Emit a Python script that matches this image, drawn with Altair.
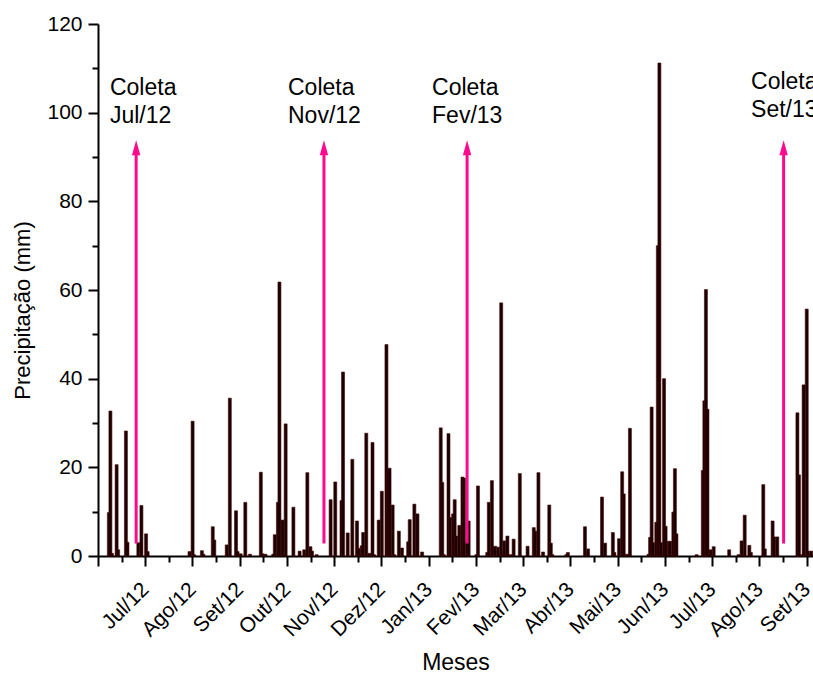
import json
import altair as alt
import pandas as pd

# ---------------- data ----------------
# day index counted from 1 Jun 2012 (ticks are evenly spaced, one per month)
day = [7, 8, 9, 12, 13, 18, 19, 26, 28, 31, 32,
       59, 61, 62, 67, 68, 74, 75, 83, 85, 89, 90, 92,
       95, 98, 105, 106, 108, 113, 114, 116, 117, 119, 121, 126, 130, 133, 135, 137, 138, 141,
       150, 153, 157, 158, 161, 164, 167, 168, 170, 171, 173, 175, 177, 178, 181, 183, 186, 187, 188, 190, 191, 194, 196, 200, 201, 204, 206, 209,
       221, 222, 223, 226, 227, 229, 230, 231, 233, 235, 236, 238, 239,
       244, 245, 251, 252, 254, 255, 256, 258, 260, 262, 264, 266, 268, 272, 277, 281, 282, 284, 287, 291, 292, 293,
       302, 303, 314, 316, 325, 327, 332, 333, 336, 338, 339, 341, 343,
       355, 356, 357, 358, 360, 361, 362, 363, 365, 366, 368, 369, 371, 372, 373,
       386, 390, 391, 392, 393, 395, 397, 407, 413, 415, 417, 420, 421, 429, 430, 435, 436, 438,
       451, 452, 454, 455, 457, 458, 460]
rain = [9.8, 32.7, 0.6, 20.6, 1.4, 28.2, 3.1, 3.0, 11.4, 5.0, 1.0,
        1.0, 30.4, 0.3, 1.2, 0.4, 6.6, 3.6, 2.5, 35.6, 10.2, 1.0, 0.5,
        12.1, 0.4, 18.9, 0.5, 0.4, 0.4, 4.8, 12.1, 61.8, 8.1, 29.8, 11.0, 1.1, 1.4, 18.8, 2.1, 1.1, 0.3,
        12.7, 16.7, 12.5, 41.5, 5.2, 21.8, 7.9, 1.7, 2.3, 5.3, 27.7, 0.6, 25.6, 0.3, 8.1, 14.6, 47.7, 18.9, 19.8, 11.5, 0.3, 5.6, 1.8, 3.2, 8.2, 11.7, 9.5, 0.9,
        28.9, 16.6, 0.3, 27.6, 8.7, 9.5, 12.7, 4.5, 6.9, 17.8, 17.6, 3.2, 7.9,
        0.3, 15.8, 0.8, 12.1, 17.0, 1.8, 2.2, 2.0, 57.1, 3.4, 4.5, 0.3, 3.8, 18.6, 2.2, 6.4, 5.6, 18.8, 0.9, 11.5, 2.9, 0.3,
        0.3, 0.8, 6.6, 1.6, 13.3, 2.9, 5.3, 0.8, 3.9, 19.0, 14.0, 0.4, 28.8,
        0.4, 4.2, 33.6, 3.0, 7.6, 70.0, 111.2, 3.0, 40.0, 6.7, 3.3, 3.3, 9.9, 19.7, 5.0,
        0.3, 19.3, 35.0, 60.1, 33.1, 1.4, 2.1, 1.4, 0.3, 3.4, 9.2, 2.4, 0.8, 16.1, 1.6, 7.9, 4.3, 4.3,
        32.3, 18.3, 0.3, 38.6, 55.7, 1.1, 1.1]

month_labels = ["", "Jul/12", "Ago/12", "Set/12", "Out/12", "Nov/12", "Dez/12", "Jan/13",
                "Fev/13", "Mar/13", "Abr/13", "Mai/13", "Jun/13", "Jul/13", "Ago/13", "Set/13"]
y_major = [0, 20, 40, 60, 80, 100, 120]
y_minor = [10, 30, 50, 70, 90, 110]

arrow_day = [24.6, 145.7, 238.0, 442.1]
arrow_base = [2.8, 2.8, 2.8, 2.8]
arrow_tip = [93.8, 93.8, 93.8, 93.8]
note_text = ["Coleta\nJul/12", "Coleta\nNov/12", "Coleta\nFev/13", "Coleta\nSet/13"]
note_day = [7.7, 122.5, 215.4, 421.1]
note_val = [104.0, 104.0, 104.0, 105.3]

# ---------------- derived ----------------
step = 457 / 15
x_major = [round(i * step, 3) for i in range(len(month_labels))]
x_minor = [round((i + 0.5) * step, 3) for i in range(len(month_labels) - 1)]
x_domain = [0, 461.05]

bars = pd.DataFrame({"day": day, "rain": rain})
arrows = pd.DataFrame({"day": arrow_day, "base": arrow_base, "tip": arrow_tip,
                       "head": [t - 2.0 for t in arrow_tip]})
notes = pd.DataFrame({"day": note_day, "val": note_val, "txt": note_text})

FONT = "Liberation Sans"
MAG = "#ff0a8c"
label_expr = json.dumps(month_labels) + "[round(datum.value / %f)]" % step

xs = alt.Scale(domain=x_domain, nice=False, zero=False, padding=0)
ys = alt.Scale(domain=[0, 120], nice=False, padding=0)

x_main = alt.X("day:Q", scale=xs,
               axis=alt.Axis(values=x_major, labelExpr=label_expr, title="Meses",
                             labelAngle=-45, labelAlign="right", labelBaseline="middle",
                             labelPadding=20, labelFontSize=21, labelFont=FONT, labelColor="black",
                             titleFont=FONT, titleFontSize=23, titleFontWeight="normal",
                             titleColor="black", titlePadding=11,
                             tickSize=10, tickWidth=2, tickColor="black",
                             domainColor="black", domainWidth=2, grid=False,
                             labelOverlap=False, labelFlush=False, orient="bottom"))
y_main = alt.Y("rain:Q", scale=ys,
               axis=alt.Axis(values=y_major, title="Precipitação (mm)",
                             labelFontSize=21, labelFont=FONT, labelColor="black", labelPadding=6,
                             titleFont=FONT, titleFontSize=22, titleFontWeight="normal",
                             titleColor="black", titlePadding=12, titleY=286,
                             tickSize=10, tickWidth=2, tickColor="black",
                             domainColor="black", domainWidth=2, grid=False,
                             labelOverlap=False, labelFlush=False, orient="left"))

bar_layer = alt.Chart(bars).mark_bar(size=3, color="#180000", stroke="#4d0606",
                                     strokeWidth=0.6).encode(x=x_main, y=y_main)

minor_x_axis = alt.Axis(values=x_minor, labels=False, title="", tickSize=6, tickWidth=2,
                        tickColor="black", domain=False, grid=False, orient="bottom")
minor_y_axis = alt.Axis(values=y_minor, labels=False, title="", tickSize=6, tickWidth=2,
                        tickColor="black", domain=False, grid=False, orient="left")

arrow_line = alt.Chart(arrows).mark_rule(color=MAG, strokeWidth=3).encode(
    x=alt.X("day:Q", scale=xs, axis=minor_x_axis),
    y=alt.Y("base:Q", scale=ys, axis=minor_y_axis),
    y2="head:Q")

arrow_head = alt.Chart(arrows).mark_point(
    shape="M0,0L0.28,1L-0.28,1Z", size=900, filled=True, color=MAG, opacity=1,
    strokeWidth=0).encode(
    x=alt.X("day:Q", scale=xs, axis=None),
    y=alt.Y("tip:Q", scale=ys, axis=None))

note_layer = alt.Chart(notes).mark_text(
    align="left", baseline="alphabetic", font=FONT, fontSize=23, lineBreak="\n",
    lineHeight=28, color="black").encode(
    x=alt.X("day:Q", scale=xs, axis=None),
    y=alt.Y("val:Q", scale=ys, axis=None),
    text="txt:N")

chart = alt.layer(bar_layer, arrow_line, arrow_head, note_layer).resolve_axis(
    x="independent", y="independent"
).properties(
    width=715, height=532,
    autosize=alt.AutoSizeParams(type="none"),
    padding={"left": 98, "top": 24, "right": 0, "bottom": 117},
    background="white",
).configure_view(stroke=None)

chart.save("out.html", embed_options={"renderer": "svg", "actions": False})
